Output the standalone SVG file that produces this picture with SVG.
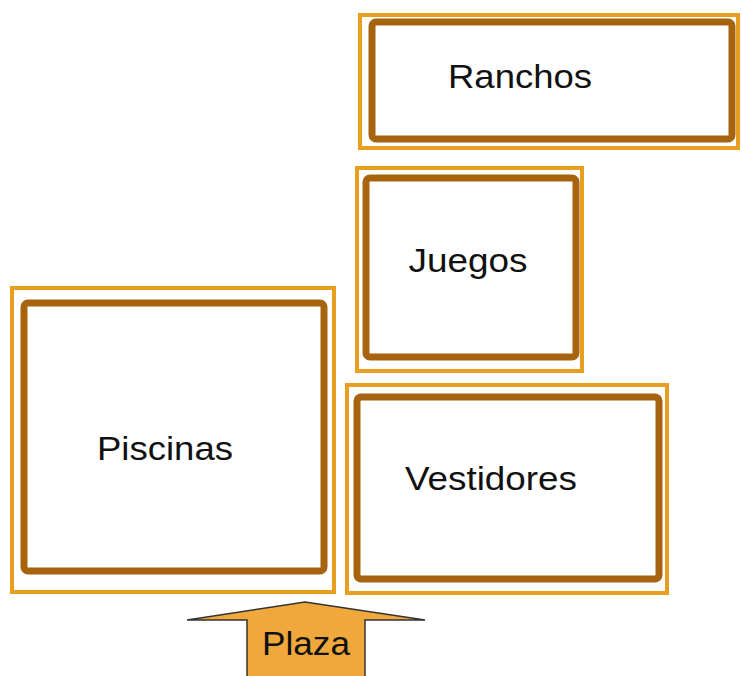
<svg xmlns="http://www.w3.org/2000/svg" width="742" height="676" viewBox="0 0 742 676">
<style>
.outer{fill:#fff;stroke:#E89E1E;stroke-width:4}
.inner{fill:#fff;stroke:#A8630F;stroke-width:7}
.lbl{font-family:"Liberation Sans",Arial,sans-serif;font-size:34px;fill:#111;text-anchor:middle}
</style>
<rect width="742" height="676" fill="#fff"/>
<g id="ranchos">
<rect class="outer" x="360" y="15" width="378" height="133"/>
<rect class="inner" x="372" y="22" width="360" height="117" rx="4"/>
<text class="lbl" x="520" y="88" textLength="144" lengthAdjust="spacingAndGlyphs">Ranchos</text>
</g>
<g id="juegos">
<rect class="outer" x="357" y="168" width="225" height="203"/>
<rect class="inner" x="366" y="178" width="210" height="179" rx="4"/>
<text class="lbl" x="468" y="272" textLength="119" lengthAdjust="spacingAndGlyphs">Juegos</text>
</g>
<g id="piscinas">
<rect class="outer" x="12" y="288" width="322" height="304"/>
<rect class="inner" x="24" y="303" width="300" height="268" rx="4"/>
<text class="lbl" x="165" y="460" textLength="136" lengthAdjust="spacingAndGlyphs">Piscinas</text>
</g>
<g id="vestidores">
<rect class="outer" x="347" y="385" width="320" height="208"/>
<rect class="inner" x="357" y="397" width="302" height="182" rx="4"/>
<text class="lbl" x="491" y="490" textLength="172" lengthAdjust="spacingAndGlyphs">Vestidores</text>
</g>
<g id="plaza">
<path d="M247,678 L247,620 L187,620 L305,602 L425,620 L365,620 L365,678 Z" fill="#F0A83C" stroke="#333" stroke-width="1.5"/>
<text class="lbl" x="306" y="655" textLength="88" lengthAdjust="spacingAndGlyphs">Plaza</text>
</g>
<g id="connectors"/>
</svg>
